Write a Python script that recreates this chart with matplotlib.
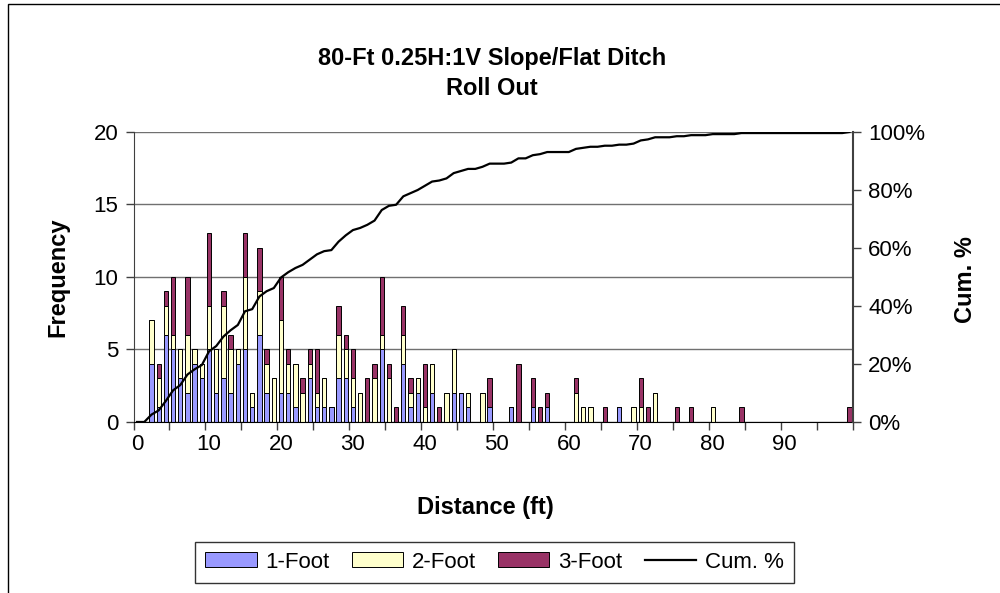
import numpy as np
import matplotlib
matplotlib.use("Agg")
import matplotlib.pyplot as plt
from matplotlib.ticker import PercentFormatter

plt.rcParams['font.family'] = ['Liberation Sans', 'DejaVu Sans']

# distance bins (ft) that have at least one hit, and counts per boulder size
bins = [2, 3, 4, 5, 6, 7, 8, 9, 10, 11, 12, 13, 14, 15, 16, 17, 18, 19,
        20, 21, 22, 23, 24, 25, 26, 27, 28, 29, 30, 31, 32, 33, 34, 35, 36, 37, 38, 39,
        40, 41, 42, 43, 44, 45, 46, 48, 49, 52, 53, 55, 56, 57,
        61, 62, 63, 65, 67, 69, 70, 71, 72, 75, 77, 80, 84, 99]
one_foot = [4, 1, 6, 5, 3, 2, 4, 3, 5, 2, 3, 2, 4, 5, 1, 6, 2, 0,
            2, 2, 1, 0, 3, 1, 1, 1, 3, 3, 1, 0, 0, 0, 5, 0, 0, 4, 1, 2,
            0, 2, 0, 0, 2, 2, 1, 0, 1, 1, 0, 1, 0, 1,
            0, 0, 0, 0, 1, 0, 0, 0, 0, 0, 0, 0, 0, 0]
two_foot = [3, 2, 2, 1, 2, 4, 1, 1, 3, 3, 5, 3, 1, 5, 1, 3, 2, 3,
            5, 2, 3, 2, 1, 1, 2, 0, 3, 2, 2, 2, 0, 3, 1, 3, 0, 2, 1, 1,
            1, 2, 0, 2, 3, 0, 1, 2, 0, 0, 0, 0, 0, 0,
            2, 1, 1, 0, 0, 1, 1, 0, 2, 0, 0, 1, 0, 0]
three_foot = [0, 1, 1, 4, 0, 4, 0, 0, 5, 0, 1, 1, 0, 3, 0, 3, 1, 0,
              3, 1, 0, 1, 1, 3, 0, 0, 2, 1, 2, 0, 3, 1, 4, 1, 1, 2, 1, 0,
              3, 0, 1, 0, 0, 0, 0, 0, 2, 0, 4, 2, 1, 1,
              1, 0, 0, 1, 0, 0, 2, 1, 0, 1, 1, 0, 1, 1]

x_labels = [0, 10, 20, 30, 40, 50, 60, 70, 80, 90]

# full 0..99 category arrays
n_cat = 100
x = np.arange(n_cat)
f1 = np.zeros(n_cat)
f2 = np.zeros(n_cat)
f3 = np.zeros(n_cat)
f1[bins] = one_foot
f2[bins] = two_foot
f3[bins] = three_foot
total = f1 + f2 + f3
cum = np.cumsum(total) / total.sum()

fig = plt.figure(figsize=(10, 5.93), dpi=100)
ax = fig.add_axes([0.1335, 0.2884, 0.853 - 0.1335, 0.7774 - 0.2884])

w = 0.6
b1 = ax.bar(x, f1, w, color='#9999FF', edgecolor='black', linewidth=0.7, label='1-Foot')
b2 = ax.bar(x, f2, w, bottom=f1, color='#FFFFCC', edgecolor='black', linewidth=0.7, label='2-Foot')
b3 = ax.bar(x, f3, w, bottom=f1 + f2, color='#993366', edgecolor='black', linewidth=0.7, label='3-Foot')

ax.set_xlim(-0.5, n_cat - 0.5)
ax.set_ylim(0, 20)
ax.set_yticks([0, 5, 10, 15, 20])
ax.yaxis.grid(True, color='#707070', linewidth=1)
ax.set_axisbelow(True)
ax.set_xticks(x_labels)
ax.set_xticklabels([str(v) for v in x_labels])
ax.set_xticks(np.arange(-0.5, n_cat, 5), minor=True)
ax.tick_params(axis='x', which='major', length=0, labelsize=16, pad=9)
ax.tick_params(axis='x', which='minor', length=6, width=1, color='#404040')
ax.tick_params(axis='y', length=6, width=1, labelsize=16, color='#404040', pad=5)
for s in ['top', 'right']:
    ax.spines[s].set_visible(False)
ax.spines['left'].set_color('#404040')
ax.spines['bottom'].set_color('black')

ax2 = ax.twinx()
ln, = ax2.plot(x, cum, color='black', linewidth=1.6, label='Cum. %')
ax2.set_ylim(0, 1)
ax2.set_yticks([0, 0.2, 0.4, 0.6, 0.8, 1.0])
ax2.yaxis.set_major_formatter(PercentFormatter(1.0, decimals=0))
ax2.tick_params(axis='y', length=6, width=1, labelsize=16, color='#404040', pad=5)
for s in ['top', 'left', 'bottom']:
    ax2.spines[s].set_visible(False)
ax2.spines['right'].set_color('#404040')
ax2.spines['right'].set_linewidth(1.5)

fig.text(0.492, 0.902, '80-Ft 0.25H:1V Slope/Flat Ditch', ha='center', va='center',
         fontsize=17, fontweight='bold')
fig.text(0.492, 0.850, 'Roll Out', ha='center', va='center', fontsize=17, fontweight='bold')
fig.text(0.058, 0.533, 'Frequency', rotation=90, ha='center', va='center', fontsize=17, fontweight='bold')
fig.text(0.966, 0.528, 'Cum. %', rotation=90, ha='center', va='center', fontsize=17, fontweight='bold')
fig.text(0.485, 0.145, 'Distance (ft)', ha='center', va='center', fontsize=17, fontweight='bold')

leg = fig.legend([b1, b2, b3, ln], ['1-Foot', '2-Foot', '3-Foot', 'Cum. %'], loc='center',
                 bbox_to_anchor=(0.4945, 0.052), ncol=4, fontsize=16, frameon=True, fancybox=False,
                 handlelength=2.3, handleheight=0.65, handletextpad=0.4, columnspacing=1.0,
                 borderpad=0.45, edgecolor='black')
leg.get_frame().set_linewidth(1)

# outer chart border (left and top edges visible)
fig.add_artist(plt.Rectangle((0.008, -0.1), 1.2, 1.1 - 4 / 593, transform=fig.transFigure,
                             fill=False, edgecolor='black', linewidth=1))

fig.savefig('out.png', dpi=100)
